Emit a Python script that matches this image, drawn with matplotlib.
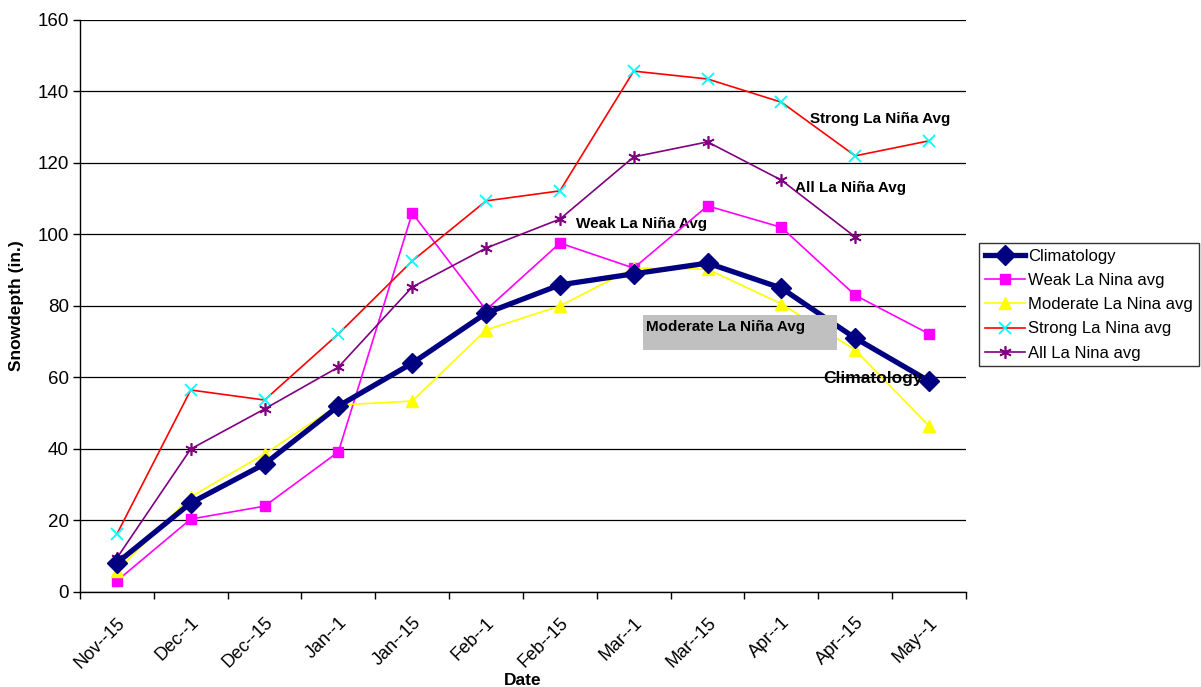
import numpy as np
import matplotlib
matplotlib.use("Agg")
import matplotlib.pyplot as plt

plt.rcParams['font.family'] = ['Liberation Sans', 'DejaVu Sans']

# Snow depth averages by date
dates = ['Nov--15', 'Dec--1', 'Dec--15', 'Jan--1', 'Jan--15', 'Feb--1',
         'Feb--15', 'Mar--1', 'Mar--15', 'Apr--1', 'Apr--15', 'May--1']
climatology = [8.1, 24.9, 35.8, 52.0, 64.0, 78.0, 85.9, 89.0, 92.0, 85.0, 71.0, 59.0]
weak = [3.1, 20.4, 24.0, 39.2, 106.0, 78.9, 97.6, 90.6, 108.0, 102.0, 83.0, 72.2]
moderate = [5.9, 26.6, 38.6, 52.3, 53.4, 73.3, 80.0, 90.6, 90.3, 80.6, 67.7, 46.4]
strong = [16.2, 56.5, 53.7, 72.2, 92.6, 109.4, 112.2, 145.7, 143.5, 137.0, 122.0, 126.2]
all_nina = [9.5, 40.0, 51.2, 62.9, 85.3, 96.2, 104.3, 121.7, 125.9, 115.2, 99.3, np.nan]

x = np.arange(len(dates))

fig = plt.figure(figsize=(12.01, 6.87), dpi=100)
ax = fig.add_axes([0.0666, 0.1383, 0.7377, 0.8326])

ax.plot(x, climatology, color='#000080', lw=3.8, marker='D', ms=10,
        label='Climatology', zorder=5)
ax.plot(x, weak, color='#FF00FF', lw=1.2, marker='s', ms=7,
        label='Weak La Nina avg', zorder=4)
ax.plot(x, moderate, color='#FFFF00', lw=1.2, marker='^', ms=8,
        label='Moderate La Nina avg', zorder=4)
ax.plot(x, strong, color='#FF0000', lw=1.2, marker='x', ms=8, mew=1.3,
        mec='#00FFFF', label='Strong La Nina avg', zorder=4)
ax.plot(x, all_nina, color='#800080', lw=1.2, marker=(6, 2, 0), ms=9, mew=1.2,
        label='All La Nina avg', zorder=4)

ax.set_xlim(-0.5, len(dates) - 0.5)
ax.set_ylim(0, 160)
ax.set_yticks(np.arange(0, 161, 20))
ax.yaxis.grid(True, color='black', lw=0.9)
ax.set_axisbelow(True)

# tick marks sit between categories, labels on the categories
ax.set_xticks(x)
ax.set_xticklabels(dates, rotation=45, ha='right', rotation_mode='anchor')
ax.set_xticks(np.arange(-0.5, len(dates)), minor=True)
ax.tick_params(axis='x', which='major', length=0, pad=16, labelsize=13)
ax.tick_params(axis='x', which='minor', length=5, width=1, direction='out')
ax.tick_params(axis='y', length=5, width=1, labelsize=13.5, pad=3)

for side in ['top', 'right']:
    ax.spines[side].set_visible(False)
for side in ['left', 'bottom']:
    ax.spines[side].set_linewidth(1)

ax.set_ylabel('Snowdepth (in.)', fontsize=12.5, fontweight='bold', labelpad=10)
ax.set_xlabel('Date', fontsize=12.5, fontweight='bold', labelpad=1)

# series labels on the chart
ax.text(9.39, 132.3, 'Strong La Niña Avg', fontsize=11, fontweight='bold', va='center')
ax.text(9.19, 113.0, 'All La Niña Avg', fontsize=11, fontweight='bold', va='center')
ax.text(6.22, 103.0, 'Weak La Niña Avg', fontsize=11, fontweight='bold', va='center')
ax.add_patch(plt.Rectangle((7.12, 67.7), 2.63, 9.8, fc='#C0C0C0', ec='none', zorder=5.5))
ax.text(7.17, 74.1, 'Moderate La Niña Avg', fontsize=11, fontweight='bold', va='center',
        zorder=6)
ax.text(9.57, 59.6, 'Climatology', fontsize=12.5, fontweight='bold', va='center', zorder=7)

leg = fig.legend(loc='upper left', bbox_to_anchor=(979 / 1201, 1 - 243 / 687),
                 fontsize=12, frameon=True, fancybox=False, borderpad=0.35,
                 handlelength=2.4, handletextpad=0.2, labelspacing=0.55,
                 borderaxespad=0)
leg.get_frame().set_edgecolor('black')
leg.get_frame().set_linewidth(1)

fig.savefig('out.png', dpi=100)
